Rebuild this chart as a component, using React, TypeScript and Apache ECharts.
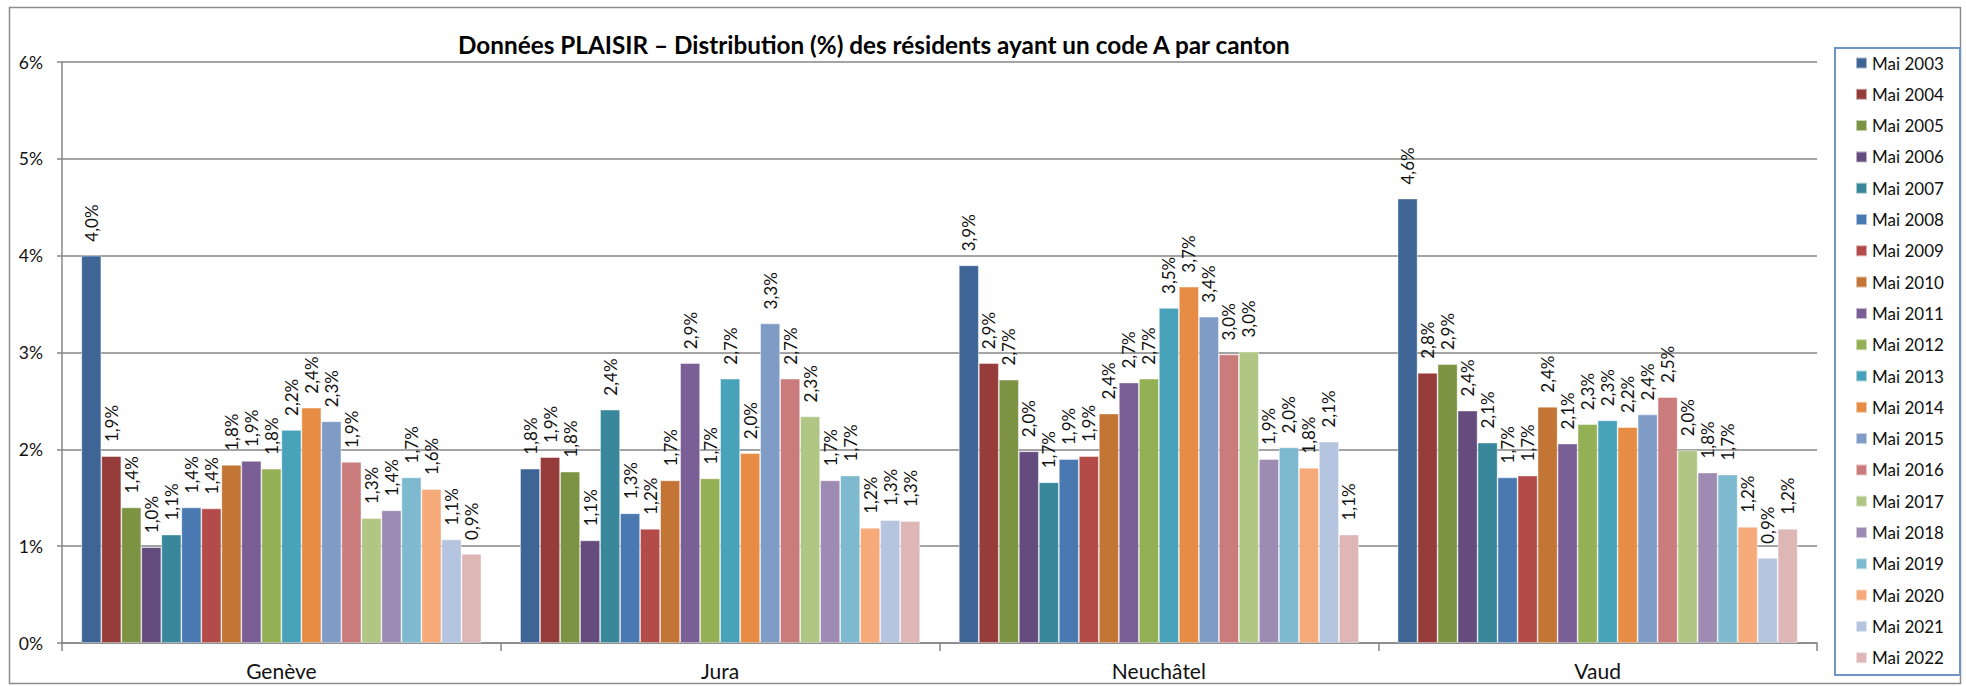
import React, { useEffect, useRef } from "react";
import * as echarts from "echarts";

const cantons = ["Genève", "Jura", "Neuchâtel", "Vaud"];
const years = [
  "Mai 2003", "Mai 2004", "Mai 2005", "Mai 2006", "Mai 2007",
  "Mai 2008", "Mai 2009", "Mai 2010", "Mai 2011", "Mai 2012",
  "Mai 2013", "Mai 2014", "Mai 2015", "Mai 2016", "Mai 2017",
  "Mai 2018", "Mai 2019", "Mai 2020", "Mai 2021", "Mai 2022",
];

// values per canton, in %, one per year (2003 -> 2022)
const geneve = [4.0, 1.93, 1.4, 0.99, 1.12, 1.4, 1.39, 1.84, 1.88, 1.8, 2.2, 2.43, 2.29, 1.87, 1.29, 1.37, 1.71, 1.59, 1.07, 0.92];
const jura = [1.8, 1.92, 1.77, 1.06, 2.41, 1.34, 1.18, 1.68, 2.89, 1.7, 2.73, 1.96, 3.3, 2.73, 2.34, 1.68, 1.73, 1.19, 1.27, 1.26];
const neuchatel = [3.9, 2.89, 2.72, 1.98, 1.66, 1.9, 1.93, 2.37, 2.69, 2.73, 3.46, 3.68, 3.37, 2.98, 3.01, 1.9, 2.02, 1.81, 2.08, 1.12];
const vaud = [4.59, 2.79, 2.88, 2.4, 2.07, 1.71, 1.73, 2.44, 2.06, 2.26, 2.3, 2.23, 2.36, 2.54, 1.99, 1.76, 1.74, 1.2, 0.88, 1.18];

const yTicks = [0, 1, 2, 3, 4, 5, 6];

const seriesColors = [
  "#3E6596", "#963C3B", "#7B9343", "#644D7E", "#38879A",
  "#4A79B1", "#B34B49", "#C37535", "#7A5E96", "#94B054",
  "#48A2BA", "#E78C44", "#7F9CC7", "#C97C7B", "#AFC685",
  "#9E8BB3", "#7DBAD0", "#F6AA7A", "#B5C4DF", "#DEB6B6",
];

const FONT = "Lato, 'Open Sans', sans-serif";

export default function App() {
  const ref = useRef<HTMLDivElement>(null);

  useEffect(() => {
    if (!ref.current) return;
    const chart = echarts.init(ref.current, undefined, { renderer: "svg" });
    const byCanton = [geneve, jura, neuchatel, vaud];

    const series = years.map((y, i) => ({
      name: y,
      type: "bar",
      data: byCanton.map((arr) => arr[i]),
      barGap: "0%",
      barCategoryGap: "8.8%",
      itemStyle: {
        color: seriesColors[i],
        borderColor: "rgba(255,255,255,0.55)",
        borderWidth: 0.8,
      },
      label: {
        show: true,
        position: "top",
        rotate: 90,
        align: "left",
        verticalAlign: "middle",
        distance: 14,
        fontFamily: FONT,
        fontSize: 17,
        color: "#111",
        formatter: (p: any) => p.value.toFixed(1).replace(".", ",") + "%",
      },
    }));

    chart.setOption({
      animation: false,
      backgroundColor: "#ffffff",
      textStyle: { fontFamily: FONT },
      title: {
        text: "Données PLAISIR – Distribution (%) des résidents ayant un code A par canton",
        left: 453,
        top: 27,
        textStyle: { fontFamily: FONT, fontSize: 24.3, fontWeight: "bold", color: "#000" },
      },
      grid: { left: 62, right: 149, top: 62, bottom: 43, containLabel: false },
      legend: {
        orient: "vertical",
        left: 1855,
        top: 54,
        padding: 0,
        itemWidth: 11,
        itemHeight: 11,
        itemGap: 13.3,
        icon: "rect",
        data: years,
        textStyle: { fontFamily: FONT, fontSize: 17, lineHeight: 18, color: "#111" },
      },
      xAxis: {
        type: "category",
        data: cantons,
        axisLine: { show: true, lineStyle: { color: "#868686", width: 1.5 } },
        axisTick: { show: true, length: 8, lineStyle: { color: "#868686", width: 1.5 } },
        axisLabel: { fontFamily: FONT, fontSize: 21, color: "#111", margin: 17 },
      },
      yAxis: {
        type: "value",
        min: yTicks[0],
        max: yTicks[yTicks.length - 1],
        interval: 1,
        axisLine: { show: true, lineStyle: { color: "#868686", width: 1.5 } },
        axisTick: { show: true, length: 5, lineStyle: { color: "#868686", width: 1.5 } },
        axisLabel: { fontFamily: FONT, fontSize: 17.5, color: "#111", margin: 19, formatter: "{value}%" },
        splitLine: { show: true, lineStyle: { color: "#868686", width: 1.5 } },
      },
      graphic: [
        {
          type: "rect",
          shape: { x: 9.5, y: 7.5, width: 1951, height: 676 },
          style: { fill: "none", stroke: "#8c8c8c", lineWidth: 1.5 },
          silent: true,
        },
        {
          type: "rect",
          shape: { x: 1835, y: 48, width: 125, height: 627 },
          style: { fill: "none", stroke: "#6f95c8", lineWidth: 2 },
          silent: true,
        },
      ],
      series,
    });

    return () => chart.dispose();
  }, []);

  return (
    <div
      ref={ref}
      style={{ position: "fixed", left: 0, top: 0, width: 1966, height: 686, background: "#fff" }}
    />
  );
}
